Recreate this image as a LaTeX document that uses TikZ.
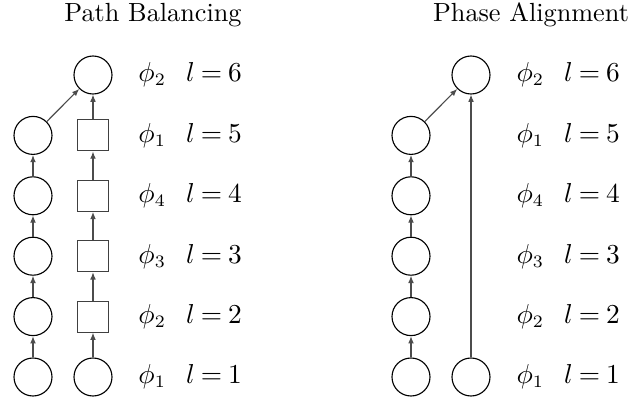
\documentclass[tikz,border=0pt]{standalone}
\usepackage{amsmath,amssymb}
\usepackage{tikz}
\usetikzlibrary{arrows.meta}
\thickmuskip=4mu plus 2mu

\begin{document}
\begin{tikzpicture}[x=0.4pt, y=0.4pt, font=\fontsize{10.5}{12.6}\selectfont,
    stage/.style={draw, circle, minimum size=15.2pt, inner sep=0pt, line width=0.45pt},
    buffer/.style={draw=black!75, rectangle, minimum size=12.4pt, inner sep=0pt, line width=0.45pt},
    flow/.style={draw=black!70, line width=0.45pt, -{Latex[length=2.9pt,width=2.3pt]}},
    lvl/.style={anchor=west, inner sep=0pt}]

\useasboundingbox (0,0) rectangle (636,403);

\def\dy{60.4}  % row spacing
\def\yo{26}    % row of l=1
\def\gap{\hspace{8pt}}

% Path balancing (left)
\node[anchor=base] (titleA) at (153,382) {Path Balancing};

\node[stage]  (a1) at (33,\yo)        {};
\node[stage]  (a2) at (33,\yo+\dy)    {};
\node[stage]  (a3) at (33,\yo+2*\dy)  {};
\node[stage]  (a4) at (33,\yo+3*\dy)  {};
\node[stage]  (a5) at (33,\yo+4*\dy)  {};

\node[stage]  (b1) at (93,\yo)        {};
\node[buffer] (b2) at (93,\yo+\dy)    {};
\node[buffer] (b3) at (93,\yo+2*\dy)  {};
\node[buffer] (b4) at (93,\yo+3*\dy)  {};
\node[buffer] (b5) at (93,\yo+4*\dy)  {};
\node[stage]  (b6) at (93,\yo+5*\dy)  {};

\draw[flow] (a1) -- (a2);
\draw[flow] (a2) -- (a3);
\draw[flow] (a3) -- (a4);
\draw[flow] (a4) -- (a5);
\draw[flow] (a5) -- (b6);
\draw[flow] (b1) -- (b2);
\draw[flow] (b2) -- (b3);
\draw[flow] (b3) -- (b4);
\draw[flow] (b4) -- (b5);
\draw[flow] (b5) -- (b6);

\node[lvl] (pa1) at (138,\yo)        {$\phi_1\gap l=1$};
\node[lvl] (pa2) at (138,\yo+\dy)    {$\phi_2\gap l=2$};
\node[lvl] (pa3) at (138,\yo+2*\dy)  {$\phi_3\gap l=3$};
\node[lvl] (pa4) at (138,\yo+3*\dy)  {$\phi_4\gap l=4$};
\node[lvl] (pa5) at (138,\yo+4*\dy)  {$\phi_1\gap l=5$};
\node[lvl] (pa6) at (138,\yo+5*\dy)  {$\phi_2\gap l=6$};

% Phase alignment (right)
\begin{scope}[xshift=151.2pt]
\node[anchor=base] (titleB) at (153,382) {Phase Alignment};

\node[stage] (c1) at (33,\yo)        {};
\node[stage] (c2) at (33,\yo+\dy)    {};
\node[stage] (c3) at (33,\yo+2*\dy)  {};
\node[stage] (c4) at (33,\yo+3*\dy)  {};
\node[stage] (c5) at (33,\yo+4*\dy)  {};

\node[stage] (d1) at (93,\yo)        {};
\node[stage] (d6) at (93,\yo+5*\dy)  {};

\draw[flow] (c1) -- (c2);
\draw[flow] (c2) -- (c3);
\draw[flow] (c3) -- (c4);
\draw[flow] (c4) -- (c5);
\draw[flow] (c5) -- (d6);
\draw[flow] (d1) -- (d6);

\node[lvl] (pb1) at (138,\yo)        {$\phi_1\gap l=1$};
\node[lvl] (pb2) at (138,\yo+\dy)    {$\phi_2\gap l=2$};
\node[lvl] (pb3) at (138,\yo+2*\dy)  {$\phi_3\gap l=3$};
\node[lvl] (pb4) at (138,\yo+3*\dy)  {$\phi_4\gap l=4$};
\node[lvl] (pb5) at (138,\yo+4*\dy)  {$\phi_1\gap l=5$};
\node[lvl] (pb6) at (138,\yo+5*\dy)  {$\phi_2\gap l=6$};
\end{scope}

\end{tikzpicture}
\end{document}
